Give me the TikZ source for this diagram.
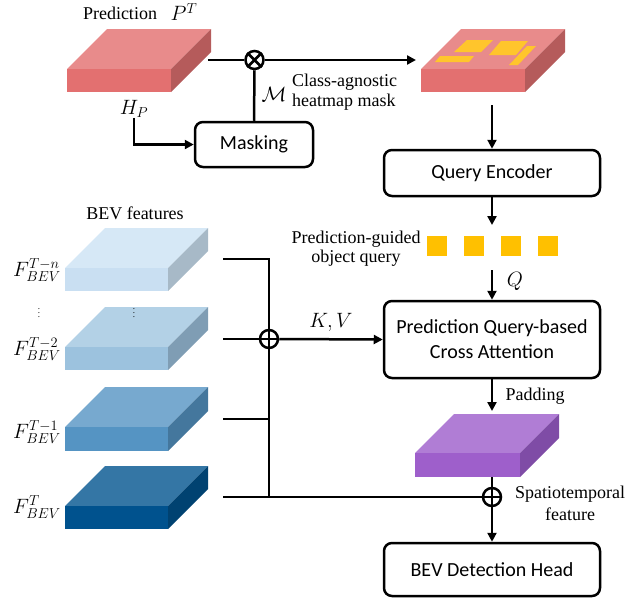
\documentclass[tikz,border=0pt]{standalone}
\usepackage{fontspec}
\setmainfont{Liberation Serif}
\newfontfamily\boxfont{Carlito}
\usetikzlibrary{arrows.meta}
\definecolor{predTop}{HTML}{E88B8B}
\definecolor{predFront}{HTML}{E37070}
\definecolor{predSide}{HTML}{B55B5B}
\definecolor{bAtop}{HTML}{D6E8F6}
\definecolor{bAfront}{HTML}{C9DFF2}
\definecolor{bAside}{HTML}{A7B9C7}
\definecolor{bBtop}{HTML}{B3D1E6}
\definecolor{bBfront}{HTML}{9CC2DE}
\definecolor{bBside}{HTML}{7F9DB4}
\definecolor{bCtop}{HTML}{77A9CF}
\definecolor{bCfront}{HTML}{5594C3}
\definecolor{bCside}{HTML}{44779D}
\definecolor{bDtop}{HTML}{3476A5}
\definecolor{bDfront}{HTML}{00528E}
\definecolor{bDside}{HTML}{004271}
\definecolor{puTop}{HTML}{B07DD5}
\definecolor{puFront}{HTML}{9E5FCB}
\definecolor{puSide}{HTML}{7F4CA6}
\definecolor{qyellow}{HTML}{FFC000}
\definecolor{myellow}{HTML}{FFC52C}
\newcommand\myslab[8]{%
  \fill[#6] (#1,#2) -- (#1+#5,#2-#5) -- (#1+#3+#5,#2-#5) -- (#1+#3,#2) -- cycle;
  \fill[#7] (#1,#2) rectangle (#1+#3,#2+#4);
  \fill[#8] (#1+#3,#2) -- (#1+#3+#5,#2-#5) -- (#1+#3+#5,#2-#5+#4) -- (#1+#3,#2+#4) -- cycle;
}
\tikzset{
  wire/.style={line width=2.5pt},
  arr/.style={line width=2.5pt, -{Triangle[length=9pt,width=9pt]}},
  box/.style={draw, line width=2.5pt, rounded corners=8pt, font=\boxfont\fontsize{20}{25}\selectfont, align=center, inner sep=0pt},
  lbl/.style={font=\fontsize{18}{20}\selectfont, inner sep=0pt, align=center},
  mth/.style={font=\fontsize{21}{24}\selectfont, inner sep=0pt},
  opc/.style={circle, draw, line width=2.5pt, minimum size=18pt, inner sep=0pt},
  sq/.style={fill=qyellow, minimum size=20pt, inner sep=0pt},
}
\begin{document}
\begin{tikzpicture}[x=1pt,y=-1pt]
\useasboundingbox (0,0) rectangle (642,598);
% slabs
\myslab{67}{69}{104}{23}{40}{predTop}{predFront}{predSide}
\myslab{421}{69}{104}{23}{40}{predTop}{predFront}{predSide}
\fill[myellow] (454,52) -- (467,40) -- (493,40) -- (481,52) -- cycle;
\fill[myellow] (489,55) -- (501,41) -- (528,41) -- (516,55) -- cycle;
\fill[myellow] (435,62) -- (440,56) -- (474,56) -- (469,62) -- cycle;
\fill[myellow] (509,65) -- (527,46) -- (536,46) -- (518,65) -- cycle;
\myslab{65}{268}{103}{23}{40}{bAtop}{bAfront}{bAside}
\myslab{65}{347}{103}{23}{40}{bBtop}{bBfront}{bBside}
\myslab{65}{427}{103}{24}{40}{bCtop}{bCfront}{bCside}
\myslab{65}{506}{103}{23}{40}{bDtop}{bDfront}{bDside}
\myslab{415}{453}{105}{24}{39}{puTop}{puFront}{puSide}

% labels
\node[lbl] (predlbl) at (120,13) {Prediction};
\node[mth] (pt) at (184,12) {$P^{T}$};
\node[mth] (hp) at (134,109) {$H_P$};
\node[mth] (mm) at (274,94) {$\mathcal{M}$};
\node[lbl, anchor=west, align=left] (cam) at (292,92) {Class-agnostic\\heatmap mask};
\node[lbl] (bevf) at (135,213) {BEV features};
\node[lbl, font=\fontsize{18}{19}\selectfont] (pgq) at (356,249) {Prediction-guided\\object query};
\node[mth] (ql) at (515,281) {$Q$};
\node[mth] (kv) at (331,322) {$K,V$};
\node[lbl] (pad) at (535,396) {Padding};
\node[lbl, font=\fontsize{18}{22}\selectfont] (stf) at (570,503) {Spatiotemporal\\feature};
\node[mth] (f1) at (37,270) {$F_{BEV}^{T-n}$};
\node[mth] (f2) at (37,349) {$F_{BEV}^{T-2}$};
\node[mth] (f3) at (37,432) {$F_{BEV}^{T-1}$};
\node[mth] (f4) at (37,507) {$F_{BEV}^{T}$};
\node[font=\fontsize{9}{10}\selectfont, inner sep=0pt] (d1) at (39,310) {$\vdots$};
\node[font=\fontsize{9}{10}\selectfont, inner sep=0pt] (d2) at (134,310) {$\vdots$};

% boxes
\node[box, minimum width=118pt, minimum height=45pt] (masking) at (254,144.5) {Masking};
\node[box, minimum width=216pt, minimum height=46pt] (qenc) at (492,173) {Query Encoder};
\node[box, minimum width=216pt, minimum height=77pt] (ca) at (492,339.5) {Prediction Query-based\\Cross Attention};
\node[box, minimum width=216pt, minimum height=53pt] (head) at (492,569.5) {BEV Detection Head};

% queries
\node[sq] (q1) at (437,246) {};
\node[sq] (q2) at (474,246) {};
\node[sq] (q3) at (511,246) {};
\node[sq] (q4) at (548,246) {};

% operators
\node[opc] (ot) at (254.5,60) {};
\draw[line width=2.5pt] (ot.north west) -- (ot.south east) (ot.north east) -- (ot.south west);
\node[opc] (op1) at (269,339) {};
\draw[line width=2.5pt] (op1.north) -- (op1.south) (op1.west) -- (op1.east);
\node[opc] (op2) at (492,497) {};
\draw[line width=2.5pt] (op2.north) -- (op2.south) (op2.west) -- (op2.east);

% coordinates
\coordinate (predR) at (208,60);
\coordinate (mIn) at (416,60);
\coordinate (mOut) at (492,105);
\coordinate (qEnd) at (492,225);
\coordinate (qStart) at (492,270);
\coordinate (puIn) at (492,411);
\coordinate (puOut) at (492,477);
\coordinate (b1) at (223,259);
\coordinate (b2) at (223,339);
\coordinate (b3) at (223,419);
\coordinate (b4) at (223,497);
\coordinate (bus1) at (269,259);
\coordinate (bus4) at (269,497);

% connectors
\draw[wire] (predR) -- (ot.west);
\draw[arr] (ot.east) -- (mIn);
\draw[wire] (masking.north) -- (ot.south);
\draw[arr] (hp.south) |- (masking.west);
\draw[arr] (mOut) -- (qenc.north);
\draw[arr] (qenc.south) -- (qEnd);
\draw[arr] (qStart) -- (ca.north);
\draw[arr] (ca.south) -- (puIn);
\draw[wire] (puOut) -- (op2.north);
\draw[arr] (op2.south) -- (head.north);
\draw[wire] (b1) -- (bus1) -- (op1.north);
\draw[wire] (op1.south) -- (bus4);
\draw[wire] (b2) -- (op1.west);
\draw[arr] (op1.east) -- (ca.west);
\draw[wire] (b3) -- (b3 -| bus1);
\draw[line width=2pt] (b4) -- (op2.west);
\end{tikzpicture}
\end{document}
